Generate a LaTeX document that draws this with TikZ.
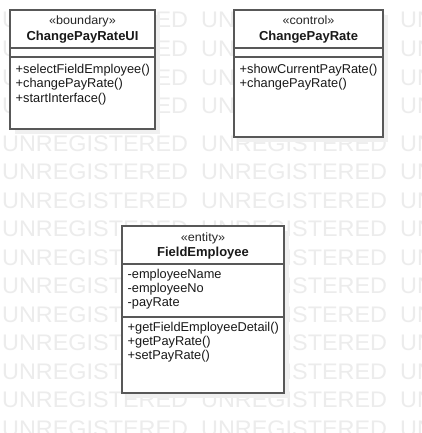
\documentclass[tikz,border=0pt]{standalone}
\usepackage{fontspec}
\setmainfont{Liberation Sans}
\newfontfamily\regf{Liberation Sans}
\newfontfamily\sterf{Liberation Sans}[FakeStretch=1.05]
\newfontfamily\boldf{Liberation Sans}
\newfontfamily\wmf{Liberation Sans}[FakeStretch=1.04]
\definecolor{lineg}{RGB}{88,88,88}
\definecolor{wmg}{RGB}{236,236,236}
\definecolor{shad}{RGB}{240,240,240}
\tikzset{
  umlbox/.style={draw=lineg, line width=1.8pt, fill=white, inner sep=0pt, outer sep=0pt, anchor=north west},
  sepline/.style={draw=lineg, line width=1.8pt},
  member/.style={anchor=base west, inner sep=0pt, font=\regf\fontsize{12.8}{14}\selectfont, text=black!90},
  stereo/.style={anchor=base, inner sep=0pt, font=\sterf\fontsize{12}{14}\selectfont, text=black!85},
  cname/.style={anchor=base, inner sep=0pt, font=\boldf\bfseries\fontsize{13}{14}\selectfont, text=black!90},
  wm/.style={anchor=base west, inner sep=0pt, font=\wmf\fontsize{22.5}{24}\selectfont, text=wmg}
}
\begin{document}
\begin{tikzpicture}[x=1pt, y=-1pt]
\useasboundingbox (0,0) rectangle (422,433);
\fill[white] (0,0) rectangle (422,433);
% watermark, upper rows
\foreach \yy [count=\r] in {28,56.5,85,113.5} {
  \foreach \c/\xx in {0/2, 1/201, 2/400} {
    \node[wm] (wmt-\r-\c) at (\xx, \yy) {UNREGISTERED};
  }
}
% watermark, lower rows
\foreach \r in {0,...,10} {
  \foreach \c/\xx in {0/2, 1/201, 2/400} {
    \node[wm] (wm-\r-\c) at (\xx, 151+28.5*\r) {UNREGISTERED};
  }
}
% shadows
\fill[shad] (15,15) rectangle (160,134);
\fill[shad] (239,15) rectangle (388,142);
\fill[shad] (127,231) rectangle (289,398);
% boxes
\node[umlbox, minimum width=145pt, minimum height=119pt] (ui) at (10,10) {};
\node[umlbox, minimum width=149pt, minimum height=127pt] (ctl) at (234,10) {};
\node[umlbox, minimum width=162pt, minimum height=167pt] (ent) at (122,226) {};
% separators
\draw[sepline] ([yshift=-38pt]ui.north west) -- ([yshift=-38pt]ui.north east);
\draw[sepline] ([yshift=-47pt]ui.north west) -- ([yshift=-47pt]ui.north east);
\draw[sepline] ([yshift=-38pt]ctl.north west) -- ([yshift=-38pt]ctl.north east);
\draw[sepline] ([yshift=-47pt]ctl.north west) -- ([yshift=-47pt]ctl.north east);
\draw[sepline] ([yshift=-38pt]ent.north west) -- ([yshift=-38pt]ent.north east);
\draw[sepline] ([yshift=-91pt]ent.north west) -- ([yshift=-91pt]ent.north east);
% box 1 texts
\node[stereo] (ui-st) at (82.5,25) {«boundary»};
\node[cname] (ui-nm) at (82.5,40.5) {ChangePayRateUI};
\node[member] (ui-m1) at (15.5,73.5) {+selectFieldEmployee()};
\node[member] (ui-m2) at (15.5,87.8) {+changePayRate()};
\node[member] (ui-m3) at (15.5,102.1) {+startInterface()};
% box 2 texts
\node[stereo] (ctl-st) at (308.5,25) {«control»};
\node[cname] (ctl-nm) at (308.5,40.5) {ChangePayRate};
\node[member] (ctl-m1) at (239.5,73.5) {+showCurrentPayRate()};
\node[member] (ctl-m2) at (239.5,87.8) {+changePayRate()};
% box 3 texts
\node[stereo] (ent-st) at (203,241) {«entity»};
\node[cname] (ent-nm) at (203,256) {FieldEmployee};
\node[member] (ent-a1) at (127.5,278) {-employeeName};
\node[member] (ent-a2) at (127.5,292.3) {-employeeNo};
\node[member] (ent-a3) at (127.5,306.6) {-payRate};
\node[member] (ent-m1) at (127.5,331) {+getFieldEmployeeDetail()};
\node[member] (ent-m2) at (127.5,345.3) {+getPayRate()};
\node[member] (ent-m3) at (127.5,359.6) {+setPayRate()};
\end{tikzpicture}
\end{document}
